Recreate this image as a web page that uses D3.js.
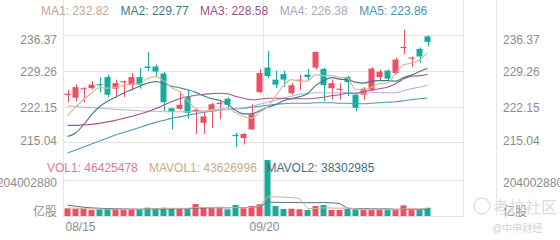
<!DOCTYPE html>
<html><head><meta charset="utf-8">
<script src="https://cdn.jsdelivr.net/npm/d3@7"></script>
<style>html,body{margin:0;padding:0;background:#fff;}svg{display:block;font-family:"Liberation Sans",Arial,"Noto Sans CJK SC",sans-serif;}</style>
</head><body><svg id="c" width="560" height="240"></svg>
<script>
// ---- data ----
const openP  = [224.4,223.9,225.6,225.8,226.6,228.0,225.7,227.0,226.4,228.0,230.1,230.1,228.7,221.8,221.7,224.1,221.1,218.9,221.5,222.7,223.7,216.5,215.9,217.6,225.0,229.9,227.5,228.6,224.8,227.3,228.5,229.9,229.6,225.8,225.5,228.0,224.5,224.5,225.5,228.0,229.3,228.8,233.8,231.7,233.6,236.1];
const closeP = [224.7,226.0,225.8,226.5,226.4,224.5,226.8,227.2,228.0,226.5,229.8,229.1,223.0,221.1,222.5,220.9,221.5,220.2,222.6,222.9,222.5,216.4,216.7,220.6,228.8,228.2,226.5,227.5,226.4,227.5,228.0,233.0,226.4,226.8,225.7,227.0,221.9,225.7,229.7,229.1,227.7,231.5,234.0,231.9,232.1,235.0];
const highP  = [225.5,226.6,226.0,227.2,228.0,228.5,227.5,227.3,228.8,229.8,233.0,230.5,229.0,221.9,225.2,225.4,221.6,221.2,222.9,223.5,224.0,216.9,216.9,222.7,229.6,233.2,229.3,229.3,226.8,228.5,229.6,233.1,229.8,227.5,226.8,228.2,224.8,226.0,229.9,229.5,229.5,231.9,237.4,232.1,233.9,236.3];
const lowP   = [223.0,223.2,223.0,225.5,225.0,224.0,223.9,224.0,225.3,225.7,229.2,228.2,221.3,217.6,221.5,219.7,216.7,216.7,217.9,219.7,221.9,214.1,214.6,217.5,224.8,227.8,225.8,226.0,224.5,225.5,227.2,229.5,223.2,223.5,223.5,224.2,221.2,223.5,225.2,227.2,227.2,228.6,232.5,230.0,230.8,234.1];
const volume = [43600000,39700000,39700000,34000000,38000000,39700000,38000000,35700000,38000000,39700000,47000000,43600000,47000000,41400000,39700000,43600000,68000000,49300000,43600000,43600000,38000000,62300000,43600000,56700000,66300000,317300000,56700000,39700000,41400000,38000000,34000000,56700000,62300000,34000000,34000000,39700000,38000000,34000000,34000000,34000000,36000000,36000000,60000000,36000000,36000000,46425478];
const ma1 = [220.4,222.0,223.5,224.8,225.9,225.8,226.0,226.3,226.6,226.6,227.7,228.1,227.3,225.9,225.1,223.3,221.8,221.2,221.5,221.6,221.9,220.9,220.2,219.8,221.0,222.1,224.2,226.3,227.5,227.2,227.2,228.5,228.3,228.3,228.0,227.8,225.6,225.4,226.0,226.7,226.8,228.7,230.4,230.8,231.4,232.82];
const ma2 = [216.2,216.9,218.5,220.5,222.1,223.2,224.0,224.8,225.5,226.2,226.8,227.1,226.8,226.2,225.9,225.5,225.0,224.3,223.7,223.4,222.6,221.4,220.7,220.7,221.3,222.0,222.5,223.3,223.7,224.1,224.7,226.3,227.3,227.9,227.6,227.5,227.0,226.8,227.2,227.3,227.3,227.2,227.9,228.4,229.1,229.77];
const ma3 = [218.4,218.4,218.5,218.6,218.8,219.1,219.4,219.8,220.2,220.6,221.1,221.7,222.4,223.1,223.7,224.1,224.4,224.6,224.7,224.8,224.7,224.2,223.8,223.5,223.6,223.8,223.8,223.8,223.7,223.7,223.7,223.8,224.0,224.3,224.5,224.8,224.8,225.1,225.4,225.7,226.0,226.7,227.6,228.2,228.3,228.58];
const ma4 = [222.3,222.2,222.0,221.9,221.8,221.7,221.6,221.5,221.4,221.3,221.2,221.2,221.1,221.1,221.1,221.1,221.2,221.2,221.3,221.4,221.6,221.7,221.9,222.2,222.6,223.0,223.4,223.8,224.2,224.6,224.7,224.9,224.9,224.9,224.9,225.0,224.8,224.8,224.9,224.9,224.9,224.9,225.3,225.7,226.0,226.38];
const ma5 = [212.9,213.5,214.1,214.7,215.3,215.9,216.5,217.0,217.5,218.0,218.5,219.0,219.4,219.8,220.1,220.4,220.7,221.0,221.2,221.4,221.6,221.7,221.8,222.0,222.2,222.4,222.6,222.7,222.8,222.8,222.8,222.9,222.9,222.9,222.8,222.8,222.7,222.7,222.8,222.9,223.0,223.1,223.3,223.5,223.7,223.86];
const mavol1 = [45000000,44000000,42000000,40000000,39000000,38200000,37900000,37100000,37900000,38200000,39700000,40800000,43100000,43700000,43700000,43100000,47900000,48400000,48800000,49600000,48500000,47400000,46200000,48800000,53400000,109200000,108100000,107300000,104300000,98600000,42000000,42000000,46500000,45000000,44200000,45300000,41600000,35900000,35900000,35900000,35200000,34800000,40000000,40400000,40800000,43626996];
const mavol2 = [62000000,55000000,50000000,46000000,44000000,42000000,41000000,40000000,39500000,38600000,39000000,39300000,40100000,40800000,41000000,41400000,44400000,45700000,46300000,46700000,45800000,47700000,47300000,48800000,51500000,78900000,77700000,76800000,76600000,76000000,75600000,75000000,76900000,74600000,71400000,43700000,41800000,41200000,40500000,40100000,40300000,38200000,38000000,38200000,38400000,38302985];
const maNames  = ["MA1","MA2","MA3","MA4","MA5"];
const maValues = ["232.82","229.77","228.58","226.38","223.86"];
const volNames  = ["VOL1","MAVOL1","MAVOL2"];
const volValues = ["46425478","43626996","38302985"];
const priceTicks = [215.04,222.15,229.26,236.37];
const volTicks = [0,204002880];
const volUnit = "亿股";
const dateIndex = [0,25];
const dateLabels = ["08/15","09/20"];

// ---- drawing ----
const svg = d3.select("#c");
const N = 54;
const UP = "#ef4f64", DOWN = "#17ac9c", GRID = "#e4e4e4", TXT = "#8c8c8c";
const maColors = ["#d6b898","#3f7b82","#a4558f","#b3b5d8","#4c9ab6"];
const maLabelColors = ["#c2aa90","#3e7a84","#9e4f8a","#a9a9b9","#4a95ad"];
const volLabelColors = ["#e07b8c","#c8aa8a","#3f6e7e"];
const mavolColors = ["#d2b292","#5c6b86"];

const x = d3.scaleBand().domain(d3.range(N)).range([63.5,495.5]).paddingInner(0.25).paddingOuter(0.125);
const bw = x.bandwidth();
const cx = i => x(i) + bw/2;
const y = d3.scaleLinear().domain([215.04,236.37]).range([142.3,35]);
const yv = d3.scaleLinear().domain([0,204002880]).range([216,180]);

const g = svg.append("g");
// grid
const hY = priceTicks.map(v => Math.round(y(v)) + 0.5).concat([Math.round(yv(204002880))+0.5, 216.5]);
g.selectAll(".hg").data(hY).join("line").attr("x1",63.5).attr("x2",463.5).attr("y1",d=>d).attr("y2",d=>d).attr("stroke",GRID);
const vX = [0,25,50].map(i => x(i) - 1).concat([496.5]);
g.selectAll(".vg").data(vX).join("line").attr("x1",d=>d).attr("x2",d=>d).attr("y1",0).attr("y2",216.5).attr("stroke",GRID);

// candles
const idx = d3.range(closeP.length);
const col = i => closeP[i] >= openP[i] ? UP : DOWN;
g.selectAll(".wick").data(idx).join("line")
  .attr("x1",i=>Math.round(cx(i))+0.5).attr("x2",i=>Math.round(cx(i))+0.5)
  .attr("y1",i=>y(highP[i])).attr("y2",i=>y(lowP[i])).attr("stroke",col).attr("stroke-width",1);
g.selectAll(".body").data(idx).join("rect")
  .attr("x",i=>x(i)).attr("width",bw)
  .attr("y",i=>y(Math.max(openP[i],closeP[i])))
  .attr("height",i=>Math.max(1.2, Math.abs(y(openP[i])-y(closeP[i]))))
  .attr("fill",col);

// MA lines
const line = d3.line().x((d,i)=>cx(i)).y(d=>y(d)).curve(d3.curveMonotoneX);
[ma5,ma4,ma3,ma2,ma1].forEach((arr,k)=>{
  const c = maColors[4-k];
  g.append("path").attr("d",line(arr)).attr("fill","none").attr("stroke",c).attr("stroke-width",1.1);
});

// volume bars
g.selectAll(".vb").data(idx).join("rect")
  .attr("x",i=>x(i)).attr("width",bw)
  .attr("y",i=>yv(volume[i])).attr("height",i=>216-yv(volume[i])).attr("fill",col);
const vline = d3.line().x((d,i)=>cx(i)).y(d=>yv(d));
[mavol2,mavol1].forEach((arr,k)=>{
  g.append("path").attr("d",vline(arr)).attr("fill","none").attr("stroke",mavolColors[1-k]).attr("stroke-width",1);
});

// axes
function styleAxis(sel){
  sel.select(".domain").remove();
  sel.selectAll(".tick line").remove();
  sel.selectAll("text").attr("fill",TXT).style("font-size","12px").style("font-family",'"Liberation Sans",Arial,"Noto Sans CJK SC",sans-serif');
}
const dyPrice = v => v===236.37 ? "0.69em" : (v===215.04 ? "0.17em" : "0.40em");
const pl = svg.append("g").attr("transform","translate(64,0)")
  .call(d3.axisLeft(y).tickValues(priceTicks).tickFormat(d3.format(".2f")).tickSize(0).tickPadding(7));
styleAxis(pl); pl.selectAll("text").attr("dy",dyPrice);
const pr = svg.append("g").attr("transform","translate(497,0)")
  .call(d3.axisRight(y).tickValues(priceTicks).tickFormat(d3.format(".2f")).tickSize(0).tickPadding(6));
styleAxis(pr); pr.selectAll("text").attr("dy",dyPrice);
const vfmt = v => v===0 ? volUnit : String(v);
const dyVol = v => v===0 ? "-0.08em" : "0.56em";
const vl = svg.append("g").attr("transform","translate(64,0)")
  .call(d3.axisLeft(yv).tickValues(volTicks).tickFormat(vfmt).tickSize(0).tickPadding(7));
styleAxis(vl); vl.selectAll("text").attr("dy",dyVol);
const vr = svg.append("g").attr("transform","translate(497,0)")
  .call(d3.axisRight(yv).tickValues(volTicks).tickFormat(vfmt).tickSize(0).tickPadding(6));
styleAxis(vr); vr.selectAll("text").attr("dy",dyVol);
const xa = svg.append("g").attr("transform","translate(0,216)")
  .call(d3.axisBottom(x).tickValues(dateIndex).tickFormat((d,i)=>dateLabels[i]).tickSize(0).tickPadding(6));
styleAxis(xa);
xa.selectAll("text").attr("text-anchor",(d,i)=>i===0?"start":"middle").attr("dx",(d,i)=>i===0?"-2px":"-3px");

// legends
const ml = svg.append("g");
let lx = 41;
maNames.forEach((n,k)=>{
  const t = ml.append("text").attr("x",lx).attr("y",15).attr("fill",maLabelColors[k]).style("font-size","12px").text(n+": "+maValues[k]);
  lx += t.node().getComputedTextLength() + 11.5;
});
const vlx = [47,149,266.5];
volNames.forEach((n,k)=>{
  svg.append("text").attr("x",vlx[k]).attr("y",171.5).attr("fill",volLabelColors[k]).style("font-size","12px").text(n+": "+volValues[k]);
});

// watermark
const wm = svg.append("g").attr("opacity",0.9);
wm.append("circle").attr("cx",482).attr("cy",206).attr("r",8).attr("fill","none").attr("stroke","#dcdcdc").attr("stroke-width",1.3);
wm.append("text").attr("x",493).attr("y",213).attr("fill","#dadada").style("font-size","16px").text("考拉社区");
wm.append("text").attr("x",492).attr("y",232).attr("fill","#cfcfcf").style("font-size","10px").text("@中申财经");
</script></body></html>
